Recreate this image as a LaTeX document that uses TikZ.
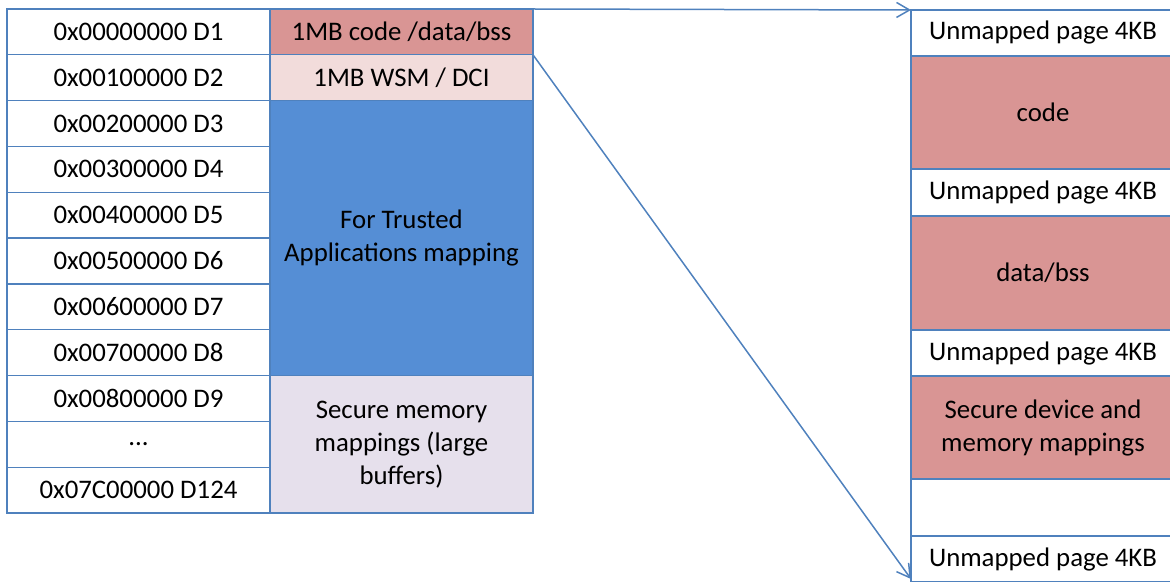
\documentclass[tikz,border=0pt]{standalone}
\usepackage{fontspec}
\setmainfont{Carlito}
\usetikzlibrary{positioning,arrows.meta}
\definecolor{cellline}{RGB}{79,129,189}
\definecolor{codered}{RGB}{217,149,148}
\definecolor{wsmpink}{RGB}{242,220,219}
\definecolor{trustblue}{RGB}{85,142,213}
\definecolor{securelav}{RGB}{230,224,236}

\begin{document}
\begin{tikzpicture}[x=1pt, y=1pt, font=\fontsize{13.4}{16.5}\selectfont,
    every node/.style={draw=cellline, line width=0.6pt, align=center, inner sep=0pt, outer sep=0pt},
    addr/.style={minimum width=131.5pt, minimum height=22.91pt},
    region/.style={minimum width=131.5pt},
    page/.style={minimum width=132pt},
    maparrow/.style={draw=cellline, line width=0.75pt, -{Straight Barb[length=6.5pt,width=7.5pt]}}]
    \useasboundingbox (0,0) rectangle (585,-291);
    % address column
    \node[addr, anchor=north west] (d1) at (3.5,-4.5) {0x00000000 D1};
    \node[addr, below=0pt of d1] (d2) {0x00100000 D2};
    \node[addr, below=0pt of d2] (d3) {0x00200000 D3};
    \node[addr, below=0pt of d3] (d4) {0x00300000 D4};
    \node[addr, below=0pt of d4] (d5) {0x00400000 D5};
    \node[addr, below=0pt of d5] (d6) {0x00500000 D6};
    \node[addr, below=0pt of d6] (d7) {0x00600000 D7};
    \node[addr, below=0pt of d7] (d8) {0x00700000 D8};
    \node[addr, below=0pt of d8] (d9) {0x00800000 D9};
    \node[addr, below=0pt of d9] (dots) {...};
    \node[addr, below=0pt of dots] (d124) {0x07C00000 D124};
    % what each range holds
    \node[region, fill=codered, minimum height=22.91pt, right=0pt of d1] (code) {1MB code /data/bss};
    \node[region, fill=wsmpink, minimum height=22.91pt, below=0pt of code] (wsm) {1MB WSM / DCI};
    \node[region, fill=trustblue, minimum height=137.46pt, below=0pt of wsm] (ta) {For Trusted\\Applications mapping};
    \node[region, fill=securelav, minimum height=68.73pt, below=0pt of ta] (smem) {Secure memory\\mappings (large\\buffers)};
    % layout of the first MB
    \node[page, minimum height=23pt, anchor=north west] (u1) at (455.5,-5) {Unmapped page 4KB};
    \node[page, fill=codered, minimum height=56.5pt, below=0pt of u1] (pcode) {code};
    \node[page, minimum height=23.5pt, below=0pt of pcode] (u2) {Unmapped page 4KB};
    \node[page, fill=codered, minimum height=57pt, below=0pt of u2] (pdata) {data/bss};
    \node[page, minimum height=23pt, below=0pt of pdata] (u3) {Unmapped page 4KB};
    \node[page, fill=codered, minimum height=51.5pt, below=0pt of u3] (pdev) {Secure device and\\memory mappings};
    \node[page, minimum height=28.5pt, below=0pt of pdev] (pfree) {};
    \node[page, minimum height=23pt, below=0pt of pfree] (u4) {Unmapped page 4KB};
    \draw[maparrow] (code.north east) -- (u1.north west);
    \draw[maparrow] (code.south east) -- ([yshift=1.5pt]u4.south west);
\end{tikzpicture}
\end{document}
